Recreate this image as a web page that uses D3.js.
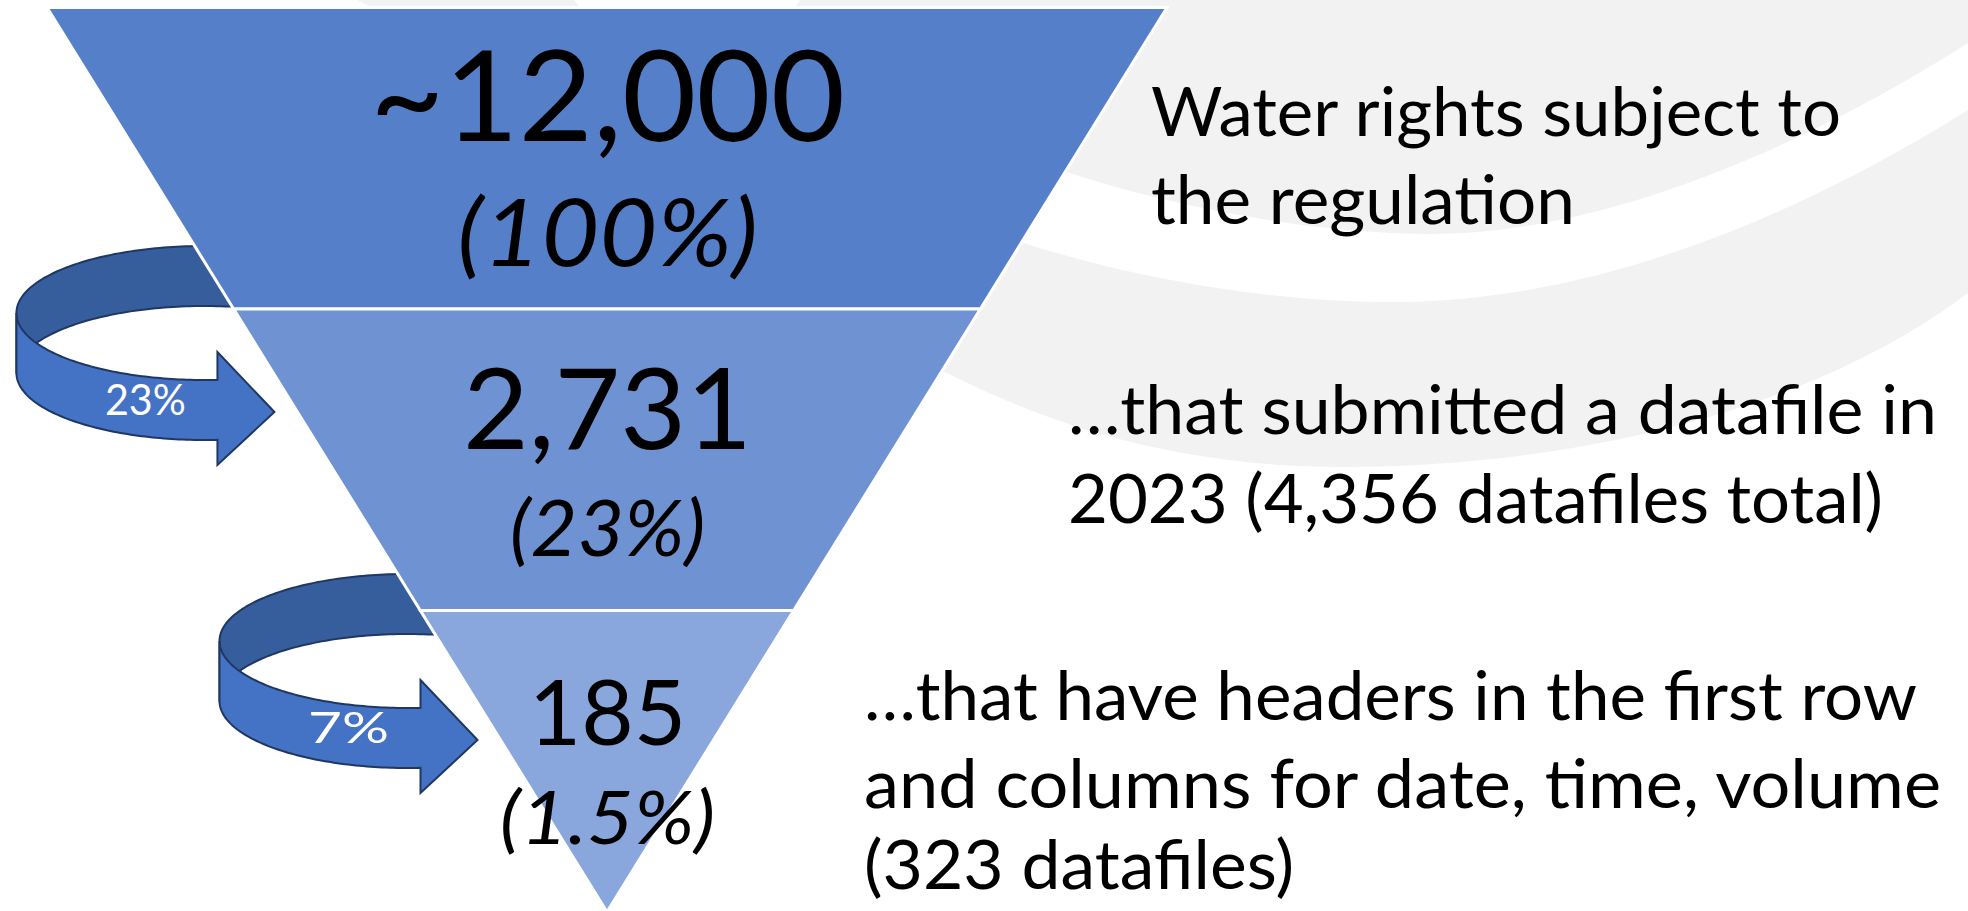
<!DOCTYPE html>
<html>
<head>
<meta charset="utf-8">
<script src="https://cdn.jsdelivr.net/npm/d3@7"></script>
<style>
  html, body { margin: 0; padding: 0; background: #ffffff; overflow: hidden; }
  svg { display: block; }
</style>
</head>
<body>
<svg id="chart" width="1968" height="911"></svg>
<script>
// ---------------- DATA ----------------
const stages = ["Subject to regulation", "Submitted datafile in 2023", "Headers + date/time/volume columns"];
const stageValues = [12000, 2731, 185];
const countLabels = ["~12,000", "2,731", "185"];
const shareLabels = ["(100%)", "(23%)", "(1.5%)"];
const descriptionLines = [
  ["Water rights subject to", "the regulation"],
  ["\u2026that submitted a datafile in", "2023 (4,356 datafiles total)"],
  ["\u2026that have headers in the first row", "and columns for date, time, volume", "(323 datafiles)"]
];
const conversionLabels = ["23%", "7%"];

// ---------------- STYLE / LAYOUT ----------------
const W = 1968, H = 911;
const FONT = "Lato, 'Carlito', Calibri, 'DejaVu Sans', sans-serif";
const bandColors = ["#5580c9", "#6f93d2", "#89a7dc"];
const grayBg = "#f2f2f2";
const arrowFront = "#4472c4", arrowBack = "#365e9d", arrowLine = "#1f3763";

const funnelTop = 7.5, funnelBottom = 912, funnelCx = 607, funnelHalfTop = 560;

// per-stage text layout (offset from band top, font size, ink width)
const countLayout = [
  { dy: 133.5, size: 126, ink: 465 },
  { dy: 140,   size: 113, ink: 280 },
  { dy: 134.5, size: 92,  ink: 150 }
];
const shareLayout = [
  { dy: 258.5, size: 94, ink: 295 },
  { dy: 247,   size: 77, ink: 191 },
  { dy: 233.5, size: 74, ink: 211 }
];
const descLayout = [
  { x: 1153, ys: [136, 224],      inks: [686, 420] },
  { x: 1070, ys: [434, 523],      inks: [865, 811] },
  { x: 866,  ys: [720, 808, 889], inks: [1049, 1073, 426] }
];
const descSize = 67;
// arrow tip offset below the divider it crosses
const arrowTipOffset = [103, 129.5];

// ---------------- SCALES ----------------
const svg = d3.select("#chart");
const y = d3.scaleLinear().domain([0, stages.length]).range([funnelTop, funnelBottom]);
const halfW = d3.scaleLinear().domain([funnelTop, funnelBottom]).range([funnelHalfTop, 0]);
const line = d3.line();

// ---------------- BACKGROUND SWOOSHES ----------------
const bg = svg.append("g");
bg.append("path")
  .attr("d", "M357,0 H1968 V43 C1800,150 1600,234 1432,234 C1300,234 1150,200 1070,173 L900,120 L420,30 Z")
  .attr("fill", grayBg);
bg.append("path")
  .attr("d", "M574,0 H800 L760,60 L620,60 Z")
  .attr("fill", "#ffffff");
bg.append("path")
  .attr("d", "M1968,110 C1800,215 1600,300 1400,302 C1250,303 1100,270 1000,235 L900,200 L850,320 L941,370 C1020,410 1150,467 1343,467 C1550,467 1800,420 1968,293 Z")
  .attr("fill", grayBg);

// ---------------- CURVED ARROWS ----------------
function ellipsePts(cx, cy, rx, ry, from, to, sign, n) {
  return d3.range(n + 1).map(k => {
    const p = from + (to - from) * k / n;
    return [cx + rx * Math.cos(p), cy + sign * ry * Math.sin(p)];
  });
}

const arrowsG = svg.append("g");
conversionLabels.forEach((lab, i) => {
  const ty = y(i + 1) + arrowTipOffset[i];
  const tx = funnelCx - halfW(ty) - 23;
  const cx = tx - 70, cy = ty - 99, rx = 188, ry = 67, h = 60;
  const headBase = tx - 57;
  const phiEnd = Math.acos(55 / rx);
  const phiHead = Math.acos((headBase - cx) / rx);

  const backPts = ellipsePts(cx, cy, rx, ry, Math.PI, phiEnd, -1, 80)
    .concat(ellipsePts(cx, cy + h, rx, ry, phiEnd, Math.PI, -1, 80));
  arrowsG.append("path")
    .attr("d", line(backPts) + "Z")
    .attr("fill", arrowBack)
    .attr("stroke", arrowLine).attr("stroke-width", 2).attr("stroke-linejoin", "round");

  const frontPts = ellipsePts(cx, cy, rx, ry, Math.PI, phiHead, 1, 80)
    .concat([[headBase, ty - 60], [tx, ty], [headBase, ty + 53]])
    .concat(ellipsePts(cx, cy + h, rx, ry, phiHead, Math.PI, 1, 80));
  arrowsG.append("path")
    .attr("d", line(frontPts) + "Z")
    .attr("fill", arrowFront)
    .attr("stroke", arrowLine).attr("stroke-width", 2).attr("stroke-linejoin", "miter");

  arrowsG.append("text")
    .attr("x", tx - 129).attr("y", ty + 3)
    .attr("text-anchor", "middle")
    .attr("font-family", FONT).attr("font-size", 43)
    .attr("fill", "#ffffff")
    .attr("textLength", 81).attr("lengthAdjust", "spacingAndGlyphs")
    .text(lab);
});

// ---------------- FUNNEL BANDS ----------------
const funnelG = svg.append("g");
funnelG.selectAll("path.band")
  .data(stageValues)
  .join("path")
  .attr("class", "band")
  .attr("d", (d, i) => {
    const y0 = y(i), y1 = y(i + 1);
    const pts = [
      [funnelCx - halfW(y0), y0], [funnelCx + halfW(y0), y0],
      [funnelCx + halfW(y1), y1], [funnelCx - halfW(y1), y1]
    ];
    return line(pts) + "Z";
  })
  .attr("fill", (d, i) => bandColors[i])
  .attr("stroke", "#ffffff")
  .attr("stroke-width", 3);

// ---------------- TEXTS IN FUNNEL ----------------
const textG = svg.append("g").attr("font-family", FONT).attr("fill", "#000");
countLabels.forEach((t, i) => {
  const L = countLayout[i];
  textG.append("text")
    .attr("x", funnelCx + 0.5).attr("y", y(i) + L.dy)
    .attr("text-anchor", "middle")
    .attr("font-size", L.size)
    .attr("textLength", L.ink + 0.08 * L.size).attr("lengthAdjust", "spacingAndGlyphs")
    .text(t);
});
shareLabels.forEach((t, i) => {
  const L = shareLayout[i];
  textG.append("text")
    .attr("x", funnelCx + 0.5).attr("y", y(i) + L.dy)
    .attr("text-anchor", "middle")
    .attr("font-size", L.size)
    .attr("font-style", "italic")
    .attr("textLength", L.ink + 0.06 * L.size).attr("lengthAdjust", "spacingAndGlyphs")
    .text(t);
});

// ---------------- DESCRIPTIONS ----------------
descriptionLines.forEach((lines, i) => {
  const L = descLayout[i];
  lines.forEach((t, j) => {
    textG.append("text")
      .attr("x", L.x - 0.03 * descSize).attr("y", L.ys[j])
      .attr("font-size", descSize)
      .attr("textLength", L.inks[j] + 0.06 * descSize).attr("lengthAdjust", "spacingAndGlyphs")
      .text(t);
  });
});
</script>
</body>
</html>
